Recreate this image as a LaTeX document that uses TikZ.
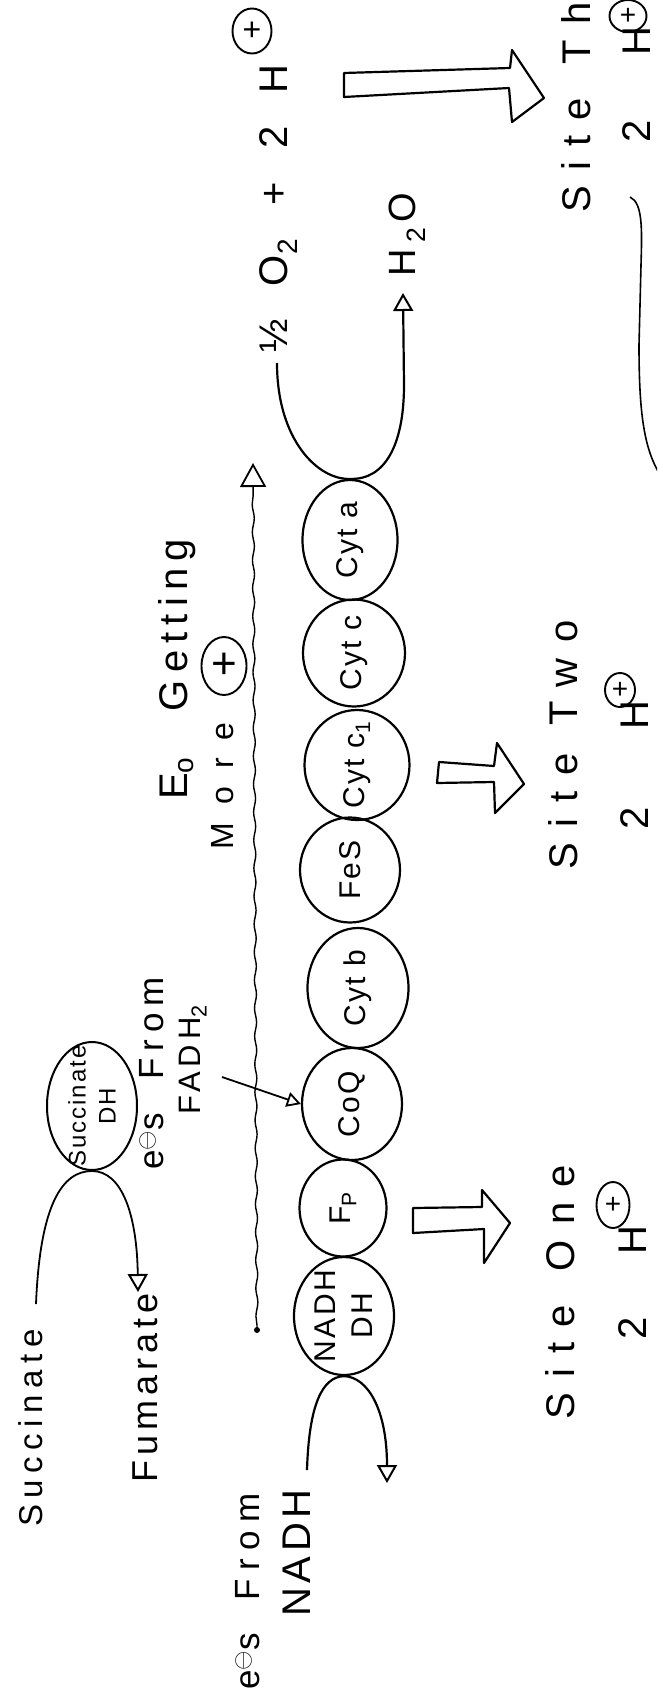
\documentclass[tikz,border=0pt]{standalone}
\usepackage{fontspec}
\setmainfont{Liberation Sans}
\usetikzlibrary{shapes.geometric,arrows.meta,decorations.pathmorphing}
\newcommand\hf[3][1]{\fontsize{#2}{#2}\selectfont\addfontfeature{LetterSpace=#3}\spaceskip=#1\fontdimen2\font\relax}
\begin{document}
\begin{tikzpicture}[x=1pt,y=-1pt,
  txt/.style={rotate=90,inner sep=0pt,anchor=base west},
  carrier/.style={ellipse,draw,line width=2.2pt,rotate=90,inner sep=-12pt,align=center,font={\hf{30}{8}}},
  pl/.style={ellipse,draw,line width=1.9pt,inner sep=0pt},
  conn/.style={line width=2.2pt},
  otip/.style={-{Triangle[open,length=18pt,width=20pt,line width=2pt]}},
  blk/.style={draw,line width=2.2pt,line join=round},
]
\useasboundingbox (0,0) rectangle (657,1696);
\clip (0,0) rectangle (657,1696);
\fill[white] (0,0) rectangle (657,1696);

% electron transport chain
\node[carrier,minimum width=120pt,minimum height=95pt] (cyta) at (350,540) {Cyt a};
\node[carrier,minimum width=107pt,minimum height=102pt] (cytc) at (354,653) {Cyt c};
\node[carrier,minimum width=110pt,minimum height=105pt] (cytc1) at (357,765) {Cyt c\textsubscript{1}};
\node[carrier,minimum width=105pt,minimum height=100pt] (fes) at (350,870) {FeS};
\node[carrier,minimum width=120pt,minimum height=101pt] (cytb) at (358,988) {Cyt b};
\node[carrier,minimum width=112pt,minimum height=100pt] (coq) at (352,1104) {CoQ};
\node[carrier,minimum width=97pt,minimum height=87pt] (fp) at (343,1208) {F\textsubscript{P}};
\node[carrier,minimum width=118pt,minimum height=100pt] (nadh) at (344,1316) {NADH\\[7pt]DH};

% succinate DH
\node[ellipse,draw,line width=2pt,minimum width=90pt,minimum height=128pt,inner sep=0pt] (sdh) at (92,1106) {};
\node[rotate=90,align=center,inner sep=0pt,font={\hf{24}{8}}] (sdhl) at (sdh.center) {Succinate\\[6pt]DH};

% texts
\node[txt,font={\hf[1.35]{40}{34}}] (o2) at (287,353) {½ O\textsubscript{2} + 2 H};
\node[pl,minimum width=39pt,minimum height=45pt,font=\fontsize{32}{32}\selectfont] (o2p) at (252,31) {+};
\node[txt,font={\hf{38}{0}}] (h2o) at (415,277) {H\kern7pt\textsubscript{2}\kern5pt O};
\node[txt,font={\hf[1.3]{40}{38}}] (s3) at (590,213) {Site Three};
\node[txt,font={\hf[4.3]{40}{10}}] (h3) at (650,143) {2 H};
\node[pl,minimum width=37pt,minimum height=32pt,font=\fontsize{28}{28}\selectfont] (h3p) at (628,16) {+};
\node[txt,font={\hf[1.0]{40}{40}}] (s2) at (577,870) {Site Two};
\node[txt,font={\hf[5.2]{40}{10}}] (h2) at (648,830) {2 H};
\node[pl,minimum width=30pt,minimum height=34pt,font=\fontsize{28}{28}\selectfont] (h2p) at (620,690) {+};
\node[txt,font={\hf[1.3]{40}{38}}] (s1) at (574,1420) {Site One};
\node[txt,font={\hf[4.2]{40}{10}}] (h1) at (646,1340) {2 H};
\node[pl,minimum width=33pt,minimum height=46pt,font=\fontsize{28}{28}\selectfont] (h1p) at (613,1205) {+};
\node[txt,font={\hf[2.5]{40}{18}}] (eo) at (187,800) {E\textsubscript{o} Getting};
\node[txt,font={\hf{32}{57}}] (more) at (233,850) {More};
\node[pl,minimum width=45pt,minimum height=58pt,font=\fontsize{44}{44}\selectfont] (morep) at (224,666) {+};
\node[txt,font={\hf[2]{35}{20}}] (efad) at (163,1170) {e$^{\ominus}$s From};
\node[txt,font={\hf{31}{16}}] (fadh) at (200,1115) {FADH\textsubscript{2}};
\node[txt,font={\hf{33}{20}}] (succ) at (42,1527) {Succinate};
\node[txt,font={\hf{36}{14}}] (fum) at (157,1483) {Fumarate};
\node[txt,font={\hf[1.8]{35}{24}}] (enadh) at (259,1690) {e$^{\ominus}$s From};
\node[txt,font={\hf{40}{12}}] (nadhtxt) at (310,1617) {NADH};

% block arrows
\draw[blk] (413,1208) -- (482,1207) -- (482,1190) -- (510,1223) -- (484,1263) -- (484,1229) -- (413,1233) -- cycle;
\draw[blk] (439,762) -- (494,766) -- (497,743) -- (524,784) -- (495,813) -- (494,782) -- (437,783) -- cycle;
\draw[blk] (344,73) -- (510,68) -- (512,50) -- (544,98) -- (512,122) -- (509,88) -- (344,97) -- cycle;

% connectors
\coordinate (o2s) at (277,363);
\coordinate (h2oe) at (403,293);
\draw[conn,otip] (o2s) .. controls (277,440) and (318,480) .. (cyta.east) .. controls (385,480) and (404,445) .. (404,385) -- (h2oe);

\coordinate (nadhs) at (307,1470);
\coordinate (nadhe) at (387,1483);
\draw[conn,otip] (nadhs) .. controls (309,1405) and (322,1377) .. (nadh.west) .. controls (368,1377) and (387,1410) .. (nadhe);

\coordinate (succe) at (36,1304);
\coordinate (fumtip) at (138,1292);
\draw[line width=1.8pt,otip] (succe) .. controls (40,1205) and (62,1171) .. (sdh.south) .. controls (122,1171) and (137,1215) .. (fumtip);

\coordinate (fadhs) at (222,1077);
\draw[line width=1.8pt,-{Triangle[open,length=14pt,width=15pt,line width=1.8pt]}] (fadhs) -- (coq.north);

\coordinate (wbot) at (257,1330);
\coordinate (wtop) at (253,463);
\fill (wbot) circle (3pt);
\draw[line width=1.4pt,decorate,decoration={snake,amplitude=1pt,segment length=28pt,pre length=5pt,post length=30pt},-{Triangle[open,length=24pt,width=26pt,line width=1.8pt]}] (wbot) -- (wtop);

% bracket at right
\draw[line width=1.6pt] (630,197) .. controls (643,203) and (642,230) .. (641,265) -- (639,345) .. controls (639,420) and (645,455) .. (665,482);
\end{tikzpicture}
\end{document}
